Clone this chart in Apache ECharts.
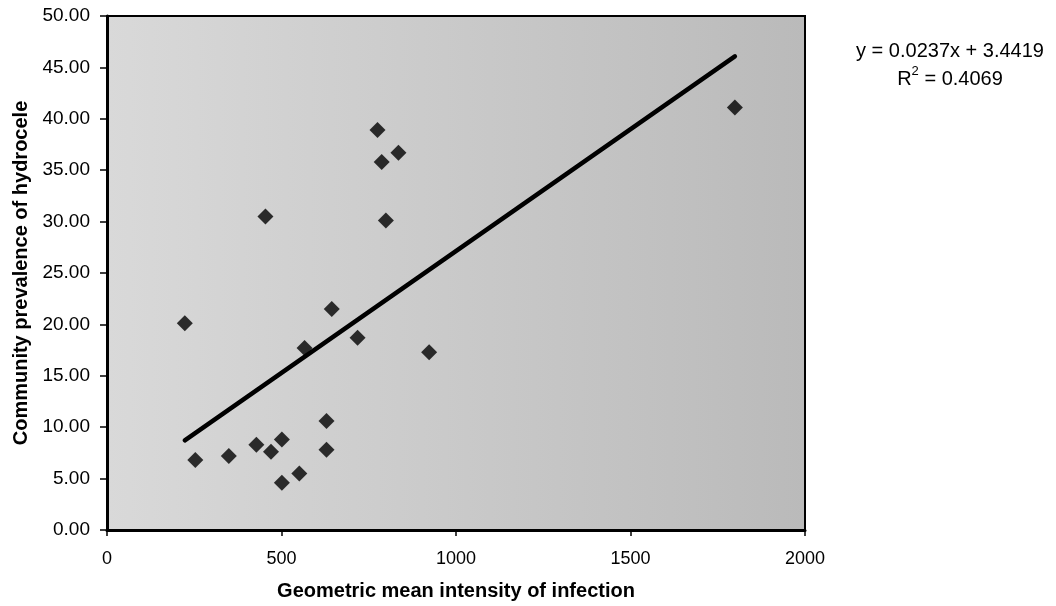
<!DOCTYPE html>
<html>
<head>
<meta charset="utf-8">
<title>Hydrocele prevalence vs. intensity of infection</title>
<script src="https://cdn.jsdelivr.net/npm/echarts@6/dist/echarts.min.js"></script>
<style>
  html, body { margin: 0; padding: 0; background: #fff; }
  #chart { width: 1056px; height: 606px; }
</style>
</head>
<body>
<div id="chart"></div>
<script>
// Geometric mean intensity of infection (x) for each community
const intensity = [223, 253, 349, 428, 470, 501, 501, 551, 629, 629,
                   566, 644, 718, 923, 454, 775, 835, 787, 799, 1799];
// Community prevalence of hydrocele (%) for the same communities
const prevalence = [20.1, 6.8, 7.2, 8.3, 7.6, 8.8, 4.6, 5.5, 10.6, 7.8,
                    17.7, 21.5, 18.7, 17.3, 30.5, 38.9, 36.7, 35.8, 30.1, 41.1];

// Linear trendline as stated in the equation label
const trendSlope = 0.0237;
const trendIntercept = 3.4419;
const rSquared = 0.4069;

// Axis tick settings
const xTicks = [0, 500, 1000, 1500, 2000];
const yTicks = [0, 5, 10, 15, 20, 25, 30, 35, 40, 45, 50];

const points = intensity.map((x, i) => [x, prevalence[i]]);
const xMin = Math.min(...intensity);
const xMax = Math.max(...intensity);
const trend = [xMin, xMax].map(x => [x, trendSlope * x + trendIntercept]);

const chart = echarts.init(document.getElementById('chart'), null, { renderer: 'canvas' });
const FONT = '"Liberation Sans", Arial, Helvetica, sans-serif';

chart.setOption({
  animation: false,
  backgroundColor: '#ffffff',
  textStyle: { fontFamily: FONT, color: '#000' },
  grid: {
    left: 107, right: 251, top: 16, bottom: 76,
    containLabel: false,
    outerBoundsMode: 'none',
    show: true,
    borderColor: '#000',
    borderWidth: 2,
    backgroundColor: new echarts.graphic.LinearGradient(0, 0, 1, 0, [
      { offset: 0, color: '#d9d9d9' },
      { offset: 1, color: '#bababa' }
    ])
  },
  title: {
    text: 'y = ' + trendSlope.toFixed(4) + 'x + ' + trendIntercept.toFixed(4) +
          '\nR{sup|2} = ' + rSquared.toFixed(4),
    left: 945, top: 32,
    textAlign: 'center',
    textStyle: {
      fontFamily: FONT, fontSize: 20, fontWeight: 'normal', color: '#000',
      lineHeight: 28, align: 'center',
      rich: { sup: { fontSize: 13, verticalAlign: 'top', lineHeight: 20, padding: [0, 0, 7, 0] } }
    }
  },
  xAxis: {
    type: 'value',
    min: xTicks[0], max: xTicks[xTicks.length - 1], interval: 500,
    name: 'Geometric mean intensity of infection',
    nameLocation: 'middle', nameGap: 51,
    nameTextStyle: { fontFamily: FONT, fontSize: 20, fontWeight: 'bold', color: '#000' },
    axisLine: { show: true, onZero: false, lineStyle: { color: '#000', width: 3 } },
    axisTick: { show: true, inside: false, length: 6, lineStyle: { color: '#000', width: 1.5 } },
    axisLabel: { margin: 20, fontSize: 18, color: '#000', fontFamily: FONT,
                 formatter: v => String(v) },
    splitLine: { show: false }
  },
  yAxis: {
    type: 'value',
    min: yTicks[0], max: yTicks[yTicks.length - 1], interval: 5,
    name: 'Community prevalence of hydrocele',
    nameLocation: 'middle', nameGap: 71, nameRotate: 90,
    nameTextStyle: { fontFamily: FONT, fontSize: 20, fontWeight: 'bold', color: '#000' },
    axisLine: { show: true, onZero: false, lineStyle: { color: '#000', width: 3 } },
    axisTick: { show: true, inside: false, length: 7, lineStyle: { color: '#000', width: 1.5 } },
    axisLabel: { margin: 17, fontSize: 19, color: '#000', fontFamily: FONT,
                 formatter: v => v.toFixed(2) },
    splitLine: { show: false }
  },
  series: [
    {
      name: 'Trendline',
      type: 'line',
      data: trend,
      symbol: 'none',
      lineStyle: { color: '#000', width: 4.5, cap: 'round' },
      z: 2
    },
    {
      name: 'Communities',
      type: 'scatter',
      data: points,
      symbol: 'diamond',
      symbolSize: [16, 16],
      itemStyle: { color: '#000' },
      z: 3
    }
  ]
});
</script>
</body>
</html>
